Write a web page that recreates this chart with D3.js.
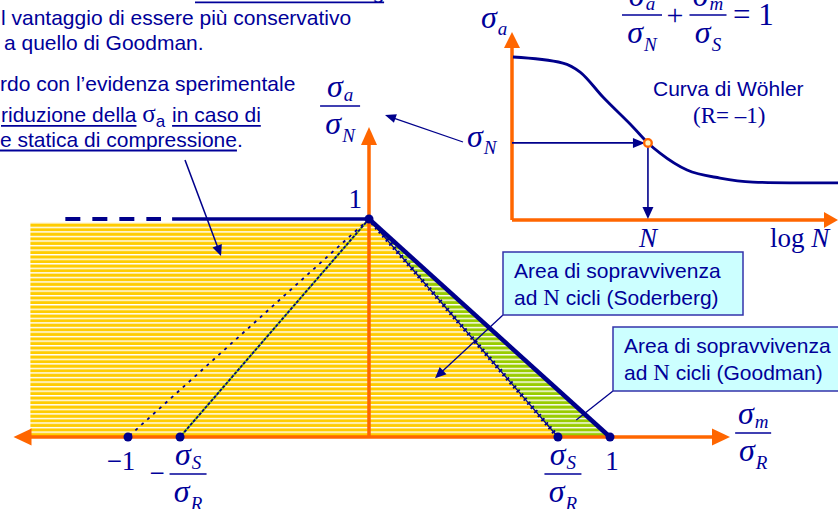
<!DOCTYPE html>
<html>
<head>
<meta charset="utf-8">
<script src="https://cdn.jsdelivr.net/npm/d3@7"></script>
<style>
  body { margin: 0; background: #fff; }
  svg { display: block; }
</style>
</head>
<body>
<svg id="chart" width="838" height="509"></svg>
<script>
// Haigh diagram: survival areas for Goodman and Soderberg criteria,
// with the Wöhler curve (R = -1) giving σN for N cycles.

// ---- data ----
const sigmaSRatio = 0.784;                 // σS / σR
const yellowTop = 0.986;                   // top edge of the shaded band (σa/σN)
const yellowLeft = -1.405;                 // left edge of the shaded band (σm/σR)
const markedPoints = [[0, 1], [-1, 0], [-sigmaSRatio, 0], [sigmaSRatio, 0], [1, 0]];
const constantLifeDashed = [-1.26, -0.863];  // dashed part of σa/σN = 1
const constantLifeSolid = [-0.817, 0];       // solid part of σa/σN = 1

// Wöhler curve: log N vs σa (inset units)
const wohlerLogN  = [0.03, 1.56, 2.09, 2.79, 3.71, 4.17, 4.54, 5.37, 6.38, 7.39, 8.53, 10];
const wohlerSigma = [0.867, 0.835, 0.787, 0.654, 0.495, 0.41, 0.356, 0.266, 0.223, 0.202, 0.198, 0.197];
const pointN = { logN: 4.17, sigma: 0.41 };

// callout targets (diagram units)
const soderbergTip = [0.274, 0.27];
const goodmanTip = [0.86, 0.078];
const compressionTip = [-0.614, 0.83];

// ---- styles ----
const NAVY = "#00008b", TEXT = "#000099", ORANGE = "#ff6600";
const YELLOW = "#ffcc00", GREEN = "#99cc00", BOX_FILL = "#ccffff", BOX_EDGE = "#3333aa";
const SERIF = "'Liberation Serif','Times New Roman',serif";
const SANS = "'Liberation Sans',Arial,sans-serif";

const svg = d3.select("#chart");

// ---- scales ----
const x = d3.scaleLinear().domain([-1, 1]).range([128, 610]);
const y = d3.scaleLinear().domain([0, 1]).range([437, 219]);
const xi = d3.scaleLinear().domain([0, 10]).range([512, 838]);
const yi = d3.scaleLinear().domain([0, 1]).range([220, 32]);

// ---- helpers ----
function arrow(g, x1, y1, x2, y2, o) {
  const len = o.len, half = o.half;
  const dx = x2 - x1, dy = y2 - y1, L = Math.hypot(dx, dy);
  const ux = dx / L, uy = dy / L;
  const bx = x2 - ux * len, by = y2 - uy * len;
  if (!o.noLine) {
    g.append("line").attr("x1", x1).attr("y1", y1).attr("x2", bx + ux * 1).attr("y2", by + uy * 1)
      .attr("stroke", o.color).attr("stroke-width", o.width);
  }
  g.append("path")
    .attr("d", `M${x2},${y2}L${bx - uy * half},${by + ux * half}L${bx + uy * half},${by - ux * half}Z`)
    .attr("fill", o.color);
}

function sigmaText(g, cx, yb, sub, o = {}) {
  const size = o.size || 32, subSize = o.subSize || 19;
  const t = g.append("text").attr("x", cx).attr("y", yb)
    .attr("text-anchor", o.anchor || "middle")
    .style("font-family", SERIF).style("font-style", "italic")
    .style("font-size", size + "px").attr("fill", TEXT);
  t.append("tspan").text("σ");
  t.append("tspan").attr("dy", o.subDy || 6).attr("dx", o.subDx || 1)
    .style("font-size", subSize + "px").text(sub);
  return t;
}

function fraction(g, cx, yBar, w, num, den, o = {}) {
  sigmaText(g, cx, yBar - (o.numGap || 9), num, { subDy: o.numSubDy || 4 });
  g.append("line").attr("x1", cx - w / 2).attr("x2", cx + w / 2)
    .attr("y1", yBar).attr("y2", yBar).attr("stroke", TEXT).attr("stroke-width", 1.4);
  sigmaText(g, cx, yBar + (o.denGap || 28), den, { subDy: o.denSubDy || 8 });
}

function richLine(g, x0, yb, segs) {
  let cx = x0;
  segs.forEach(s => {
    const t = g.append("text").attr("x", cx).attr("y", yb + (s.dy || 0))
      .style("font-family", s.font || SANS)
      .style("font-size", (s.size || 21) + "px")
      .style("white-space", "pre")
      .attr("fill", TEXT).text(s.text);
    const w = t.node().getComputedTextLength();
    if (s.u) {
      g.append("line").attr("x1", cx).attr("x2", cx + w)
        .attr("y1", yb + s.u).attr("y2", yb + s.u)
        .attr("stroke", TEXT).attr("stroke-width", 1.8);
    }
    cx += w + (s.gap || 0);
  });
}

// ---- stripe patterns ----
const defs = svg.append("defs");
[["stripeY", YELLOW], ["stripeG", GREEN]].forEach(([id, c]) => {
  const p = defs.append("pattern").attr("id", id).attr("patternUnits", "userSpaceOnUse")
    .attr("width", 20).attr("height", 4.55).attr("y", -0.8);
  p.append("rect").attr("width", 20).attr("height", 4.55).attr("fill", c);
  p.append("rect").attr("width", 20).attr("height", 1.4).attr("fill", "#fff");
});

// ---- survival areas ----
const poly = d3.line().x(d => x(d[0])).y(d => y(d[1]));
const yellowArea = [[yellowLeft, 0], [yellowLeft, yellowTop], [0, yellowTop], [0, 1], [sigmaSRatio, 0]];
const greenArea = [[0, 1], [1, 0], [sigmaSRatio, 0]];
svg.append("path").attr("d", poly(yellowArea) + "Z").attr("fill", "url(#stripeY)");
svg.append("path").attr("d", poly(greenArea) + "Z").attr("fill", "url(#stripeG)");

// ---- main axes ----
const axes = svg.append("g");
const xLeftTip = x(-1.475), xRightTip = x(1.498);
axes.append("line").attr("x1", x(yellowLeft)).attr("x2", xRightTip - 16)
  .attr("y1", y(0)).attr("y2", y(0)).attr("stroke", ORANGE).attr("stroke-width", 3.5);
arrow(axes, x(0), y(0), xLeftTip, y(0), { len: 18, half: 8.5, color: ORANGE, width: 3.5, noLine: true });
arrow(axes, x(0), y(0), xRightTip, y(0), { len: 18, half: 8.5, color: ORANGE, width: 3.5, noLine: true });
arrow(axes, x(0), y(0), x(0), y(1.422), { len: 18, half: 8, color: ORANGE, width: 3.5 });

// ---- criteria lines ----
const lines = svg.append("g");
// σa/σN = 1 : dashed, then solid
lines.append("line").attr("x1", x(constantLifeDashed[0])).attr("x2", x(constantLifeDashed[1]))
  .attr("y1", y(1)).attr("y2", y(1)).attr("stroke", NAVY).attr("stroke-width", 4)
  .attr("stroke-dasharray", "15,12");
lines.append("line").attr("x1", x(constantLifeSolid[0])).attr("x2", x(constantLifeSolid[1]))
  .attr("y1", y(1)).attr("y2", y(1)).attr("stroke", NAVY).attr("stroke-width", 3.5);
// Goodman
lines.append("line").attr("x1", x(0)).attr("y1", y(1)).attr("x2", x(1)).attr("y2", y(0))
  .attr("stroke", NAVY).attr("stroke-width", 4.5);
// Soderberg (dotted)
lines.append("line").attr("x1", x(0)).attr("y1", y(1)).attr("x2", x(sigmaSRatio)).attr("y2", y(0))
  .attr("stroke", NAVY).attr("stroke-width", 1.3);
lines.append("line").attr("x1", x(0)).attr("y1", y(1)).attr("x2", x(sigmaSRatio)).attr("y2", y(0))
  .attr("stroke", NAVY).attr("stroke-width", 4.2).attr("stroke-dasharray", "1.8,3.6");
// compressive side
lines.append("line").attr("x1", x(0)).attr("y1", y(1)).attr("x2", x(-sigmaSRatio)).attr("y2", y(0))
  .attr("stroke", GREEN).attr("stroke-width", 2.2);
lines.append("line").attr("x1", x(0)).attr("y1", y(1)).attr("x2", x(-sigmaSRatio)).attr("y2", y(0))
  .attr("stroke", NAVY).attr("stroke-width", 1.7).attr("stroke-dasharray", "3,1.5");
lines.append("line").attr("x1", x(0)).attr("y1", y(1)).attr("x2", x(-1)).attr("y2", y(0))
  .attr("stroke", NAVY).attr("stroke-width", 1.8).attr("stroke-dasharray", "3,5");

svg.append("g").selectAll("circle").data(markedPoints).join("circle")
  .attr("cx", d => x(d[0])).attr("cy", d => y(d[1])).attr("r", 4.5).attr("fill", NAVY);

// ---- main labels ----
const lab = svg.append("g");
lab.append("text").attr("x", x(0) - 7).attr("y", y(1) - 11).attr("text-anchor", "end")
  .style("font-family", SERIF).style("font-size", "27px").attr("fill", TEXT).text("1");
lab.append("text").attr("x", x(-1) - 7).attr("y", y(0) + 33).attr("text-anchor", "middle")
  .style("font-family", SERIF).style("font-size", "27px").attr("fill", TEXT).text("−1");
lab.append("text").attr("x", x(1) + 2).attr("y", y(0) + 33).attr("text-anchor", "middle")
  .style("font-family", SERIF).style("font-size", "27px").attr("fill", TEXT).text("1");
fraction(lab, x(sigmaSRatio) + 5, y(0) + 37, 37, "S", "R");
fraction(lab, x(-sigmaSRatio) + 8, y(0) + 37, 37, "S", "R");
lab.append("text").attr("x", x(-sigmaSRatio) - 23).attr("y", y(0) + 45).attr("text-anchor", "middle")
  .style("font-family", SERIF).style("font-size", "27px").attr("fill", TEXT).text("−");
fraction(lab, x(1.594), y(0) - 4, 36, "m", "R");
fraction(lab, x(-0.12), 106, 40, "a", "N");

// ---- Wöhler inset ----
const inset = svg.append("g");
arrow(inset, xi(0), yi(0), xi(0), yi(1), { len: 16, half: 8, color: ORANGE, width: 3.5 });
arrow(inset, xi(0), yi(0), xi(10), yi(0), { len: 14, half: 8, color: ORANGE, width: 3.5 });
inset.append("path")
  .datum(d3.zip(wohlerLogN, wohlerSigma))
  .attr("d", d3.line().x(d => xi(d[0])).y(d => yi(d[1])).curve(d3.curveMonotoneX))
  .attr("fill", "none").attr("stroke", NAVY).attr("stroke-width", 2.8);
arrow(inset, xi(0), yi(pointN.sigma), xi(pointN.logN) - 3, yi(pointN.sigma),
  { len: 12, half: 5, color: NAVY, width: 1.6 });
arrow(inset, xi(pointN.logN), yi(pointN.sigma), xi(pointN.logN), yi(0) - 1,
  { len: 12, half: 5.5, color: NAVY, width: 1.6 });
inset.append("circle").attr("cx", xi(pointN.logN)).attr("cy", yi(pointN.sigma)).attr("r", 3.8)
  .attr("fill", "#fff4c0").attr("stroke", ORANGE).attr("stroke-width", 2.4);

sigmaText(inset, xi(0) - 31, 28, "a", { anchor: "start", subDy: 7 });
sigmaText(inset, 467, 147, "N", { anchor: "start", subDy: 7 });
inset.append("text").attr("x", xi(pointN.logN)).attr("y", 247).attr("text-anchor", "middle")
  .style("font-family", SERIF).style("font-style", "italic").style("font-size", "27px")
  .attr("fill", TEXT).text("N");
const logT = inset.append("text").attr("x", 770).attr("y", 247)
  .style("font-family", SERIF).style("font-size", "27px").attr("fill", TEXT);
logT.append("tspan").text("log ");
logT.append("tspan").style("font-style", "italic").text("N");
inset.append("text").attr("x", 653).attr("y", 96)
  .style("font-family", SANS).style("font-size", "21px").attr("fill", TEXT).text("Curva di Wöhler");
inset.append("text").attr("x", 693).attr("y", 123)
  .style("font-family", SERIF).style("font-size", "23px").attr("fill", TEXT).text("(R= –1)");

// arrow from inset σN to main ordinate label
arrow(svg, 463, 142, 385, 115, { len: 11, half: 4.5, color: NAVY, width: 1.3 });

// ---- Soderberg line equation ----
const eq = svg.append("g");
fraction(eq, 642, 15, 40, "a", "N");
eq.append("text").attr("x", 675).attr("y", 25).attr("text-anchor", "middle")
  .style("font-family", SERIF).style("font-size", "30px").attr("fill", TEXT).text("+");
fraction(eq, 708, 15, 37, "m", "S");
eq.append("text").attr("x", 733).attr("y", 25)
  .style("font-family", SERIF).style("font-size", "31px").attr("fill", TEXT).text("= 1");

// ---- callout boxes ----
function box(g, x0, y0, w, h, lines2) {
  g.append("rect").attr("x", x0).attr("y", y0).attr("width", w).attr("height", h)
    .attr("fill", BOX_FILL).attr("stroke", BOX_EDGE).attr("stroke-width", 1.5);
  g.append("text").attr("x", x0 + 11).attr("y", y0 + 26)
    .style("font-family", SANS).style("font-size", "21px").attr("fill", TEXT).text(lines2[0]);
  const t2 = g.append("text").attr("x", x0 + 11).attr("y", y0 + 53)
    .style("font-family", SANS).style("font-size", "21px").attr("fill", TEXT);
  t2.append("tspan").text("ad ");
  t2.append("tspan").style("font-family", SERIF).style("font-size", "23px").text("N");
  t2.append("tspan").text(" cicli " + lines2[1]);
}
const callouts = svg.append("g");
callouts.append("line").attr("x1", 613).attr("y1", 391).attr("x2", x(goodmanTip[0])).attr("y2", y(goodmanTip[1]))
  .attr("stroke", NAVY).attr("stroke-width", 1.3);
arrow(callouts, 503, 315, x(soderbergTip[0]), y(soderbergTip[1]), { len: 11, half: 5, color: NAVY, width: 1.3 });
box(callouts, 503, 252, 240, 63, ["Area di sopravvivenza", "(Soderberg)"]);
box(callouts, 613, 327, 240, 64, ["Area di sopravvivenza", "(Goodman)"]);

// ---- text block ----
const txt = svg.append("g");
richLine(txt, 195, -1.5, [{ text: "criterio di Soderberg", u: 3.8 }]);
richLine(txt, 1, 24.5, [{ text: "l vantaggio di essere più conservativo" }]);
richLine(txt, 4, 50, [{ text: "a quello di Goodman." }]);
richLine(txt, 0, 91, [{ text: "rdo con l’evidenza sperimentale" }]);
richLine(txt, 1, 122, [
  { text: "riduzione della", u: 3.8 }, { text: " " },
  { text: "σ", font: SERIF, size: 25 }, { text: "a", size: 17, dy: 5, gap: 1 }, { text: " " },
  { text: "in caso di", u: 3.8 }
]);
richLine(txt, 0, 147, [{ text: "e statica di compressione", u: 3.5 }, { text: "." }]);
arrow(txt, 185, 160, x(compressionTip[0]), y(compressionTip[1]), { len: 11, half: 5, color: NAVY, width: 1.5 });
</script>
</body>
</html>
